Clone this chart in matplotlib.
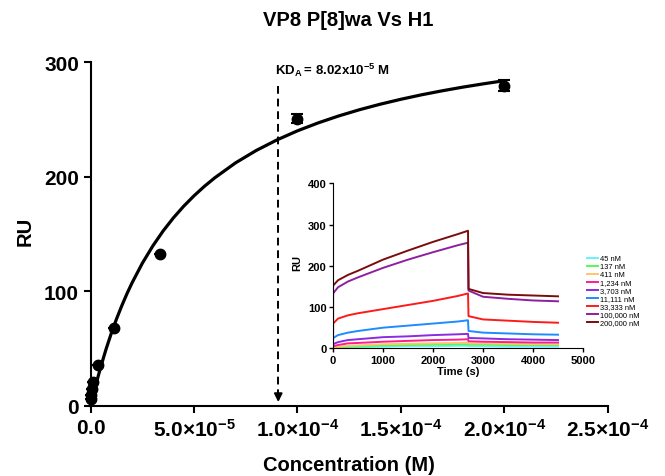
import matplotlib.pyplot as plt
import numpy as np

plt.rcParams['font.family'] = ['Liberation Sans', 'DejaVu Sans']
plt.rcParams['mathtext.fontset'] = 'custom'
plt.rcParams['mathtext.rm'] = 'Liberation Sans'
plt.rcParams['mathtext.bf'] = 'Liberation Sans:bold'
plt.rcParams['mathtext.it'] = 'Liberation Sans:italic'

# steady state binding points (concentration in M, response in RU)
conc = [4.5e-8, 1.37e-7, 4.11e-7, 1.234e-6, 3.703e-6, 1.111e-5, 3.333e-5, 1.0e-4, 2.0e-4]
ru = [6, 9.6, 14.8, 21.2, 36.0, 67.8, 132.6, 250.4, 279.5]
ru_err = [0, 0, 0, 0, 0, 0, 0, 4.0, 4.5]

# fitted curve (x in units of 1e-5 M)
curve_x = [0, 0.1, 0.2, 0.35, 0.5, 0.75, 1, 1.25, 1.5, 1.75, 2, 2.5, 3, 3.5, 4, 4.5,
           5, 5.5, 6, 7, 8, 9, 10, 11, 12, 13, 14, 15, 16, 17, 18, 19, 20]
curve_y = [0, 7.6, 14.9, 25.2, 35.0, 50.0, 63.6, 76.0, 87.3, 97.8, 107.4, 124.6, 139.5,
           152.6, 164.1, 174.3, 183.4, 191.6, 199.0, 212.0, 222.8, 232.0, 240.0, 246.9,
           253.0, 258.4, 263.2, 267.5, 271.4, 274.9, 278.1, 281.0, 283.7]

kd_line_x = 9.07e-5
kd_text = r'$\mathbf{KD_{A}{=}\,8.02x10^{-5}\ M}$'

xticks = [0, 5e-5, 1e-4, 1.5e-4, 2e-4, 2.5e-4]
xticklabels = [r'$\mathbf{0.0}$', r'$\mathbf{5.0{\times}10^{-5}}$', r'$\mathbf{1.0{\times}10^{-4}}$',
               r'$\mathbf{1.5{\times}10^{-4}}$', r'$\mathbf{2.0{\times}10^{-4}}$', r'$\mathbf{2.5{\times}10^{-4}}$']

# sensorgram traces (time s, RU) for the inset
labels = ['45 nM', '137 nM', '411 nM', '1,234 nM', '3,703 nM', '11,111 nM',
          '33,333 nM', '100,000 nM', '200,000 nM']
colors = ['#66F2FF', '#4CFF4C', '#FFC46E', '#FF1C8E', '#8A2BE2', '#1E8CFF',
          '#FF1A1A', '#8E1FA0', '#7A0C0C']
t_pts = [0, 1, 100, 300, 500, 1000, 1500, 2000, 2500, 2700, 2710, 3000, 3500, 4000, 4500]
traces = [
    [0, 1, 2, 3, 3, 4, 5, 5, 6, 6, 5, 5, 4, 4, 4],
    [0, 2, 3, 4, 5, 7, 8, 9, 10, 10, 9, 9, 8, 8, 8],
    [0, 3, 4, 6, 7, 10, 11, 12, 13, 14, 12, 12, 11, 10, 10],
    [0, 5, 8, 12, 13, 16, 18, 20, 21, 22, 17, 16, 15, 14, 14],
    [0, 10, 15, 20, 22, 27, 29, 32, 34, 35, 25, 24, 22, 21, 20],
    [0, 25, 32, 38, 42, 50, 55, 60, 65, 68, 42, 38, 36, 34, 33],
    [0, 60, 72, 80, 85, 95, 105, 115, 127, 133, 78, 70, 67, 64, 62],
    [0, 133, 148, 162, 172, 195, 215, 233, 250, 256, 140, 125, 120, 116, 114],
    [0, 152, 165, 178, 188, 215, 237, 258, 277, 285, 144, 134, 130, 128, 126],
]

fig = plt.figure(figsize=(6.65, 4.77), dpi=100)

# main binding plot
ax = fig.add_axes([0.1364, 0.1468, 0.7774, 0.7211])
ax.plot(np.array(curve_x) * 1e-5, curve_y, c='k', lw=2.3, clip_on=False, zorder=3,
        solid_joinstyle='round', solid_capstyle='round')
ax.errorbar(conc, ru, yerr=ru_err, fmt='o', c='k', markersize=7.5, elinewidth=1.5,
            capsize=4, capthick=1.5, clip_on=False, zorder=4)
ax.plot([kd_line_x, kd_line_x], [279, 8], c='k', lw=1.4, ls=(0, (4, 2.5)))
ax.annotate('', xy=(kd_line_x, 1), xytext=(kd_line_x, 10),
            arrowprops=dict(arrowstyle='-|>', color='k', lw=1.4, mutation_scale=12))
ax.text(kd_line_x - 0.15e-5, 286, kd_text, fontsize=9.5, ha='left', va='bottom')

ax.set_xlim(0, 2.5e-4)
ax.set_ylim(0, 300)
ax.set_xticks(xticks)
ax.set_xticklabels(xticklabels)
ax.set_yticks([0, 100, 200, 300])
ax.tick_params(labelsize=15, width=1.5, length=5, direction='out')
for lab in ax.get_yticklabels():
    lab.set_fontweight('bold')
for s in ['top', 'right']:
    ax.spines[s].set_visible(False)
for s in ['left', 'bottom']:
    ax.spines[s].set_linewidth(1.5)

fig.text(0.524, 0.957, 'VP8 P[8]wa Vs H1', fontsize=14.5, fontweight='bold', ha='center', va='center')
fig.text(0.525, 0.025, 'Concentration (M)', fontsize=14.5, fontweight='bold', ha='center', va='center')
fig.text(0.038, 0.514, 'RU', fontsize=14.5, fontweight='bold', ha='center', va='center', rotation=90)

# inset sensorgram
ins = fig.add_axes([0.5008, 0.2677, 0.3759, 0.3459])
for y, c, lab in zip(traces, colors, labels):
    ins.plot(t_pts, y, c=c, lw=1.4, label=lab)
ins.set_xlim(0, 5000)
ins.set_ylim(0, 400)
ins.set_xticks([0, 1000, 2000, 3000, 4000, 5000])
ins.set_yticks([0, 100, 200, 300, 400])
ins.tick_params(labelsize=8, width=1, length=3, direction='out', pad=1.5)
for lab in ins.get_xticklabels() + ins.get_yticklabels():
    lab.set_fontweight('bold')
for s in ['top', 'right']:
    ins.spines[s].set_visible(False)
ins.set_xlabel('Time (s)', fontsize=8, fontweight='bold', labelpad=1)
fig.text(297 / 665, 1 - 263 / 477, 'RU', fontsize=8, fontweight='bold', ha='center', va='center', rotation=90)

fig.legend(loc='upper left', bbox_to_anchor=(587 / 665, 1 - 256 / 477), frameon=False,
           fontsize=5.4, handlelength=1.4, handletextpad=0.3, labelspacing=0.1,
           borderpad=0, borderaxespad=0)

plt.savefig('out.png', dpi=100)
